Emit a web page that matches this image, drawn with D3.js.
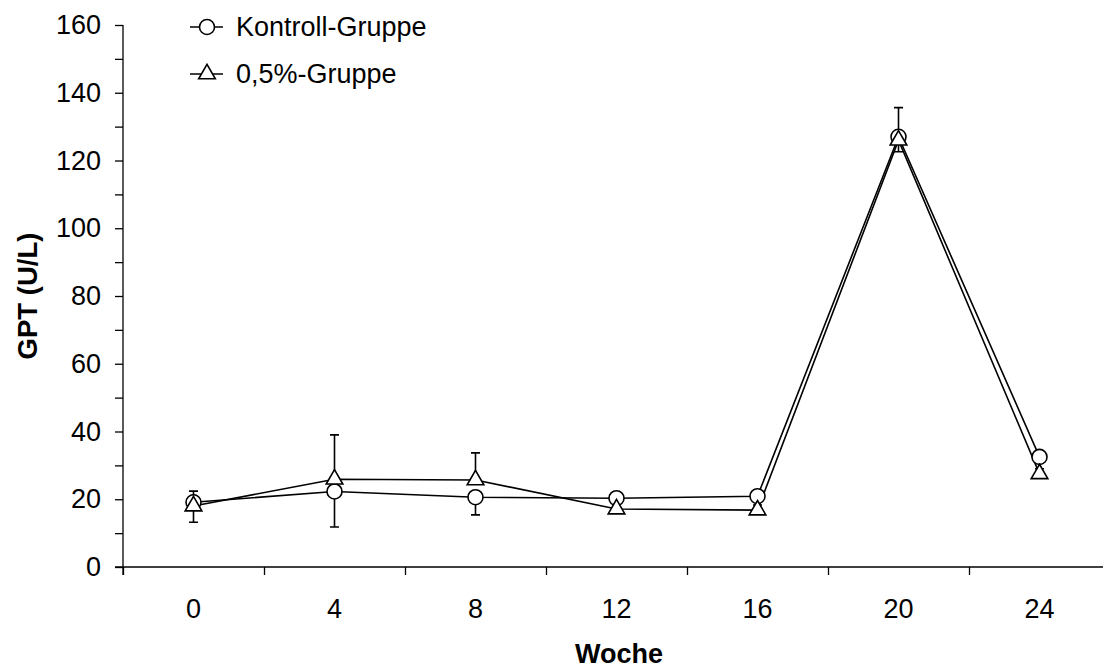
<!DOCTYPE html>
<html>
<head>
<meta charset="utf-8">
<script src="https://cdn.jsdelivr.net/npm/d3@7"></script>
<style>
  html, body { margin: 0; padding: 0; background: #fff; }
  svg { display: block; font-family: "Liberation Sans", Arial, sans-serif; }
</style>
</head>
<body>
<svg id="chart" width="1103" height="668"></svg>
<script>
// ---- data ----
const weeks = ["0", "4", "8", "12", "16", "20", "24"];
const kontrollValues = [19.1, 22.3, 20.6, 20.3, 20.9, 127.0, 32.5];
const kontrollErrDown = [5.9, 10.5, 5.2, 1.5, 1.5, 4.4, 1.5];
const gruppe05Values = [18.0, 25.9, 25.7, 17.1, 16.8, 126.0, 27.5];
const gruppe05ErrUp = [4.4, 13.1, 8.0, 1.5, 1.5, 9.6, 1.5];
const yTicks = [0, 10, 20, 30, 40, 50, 60, 70, 80, 90, 100, 110, 120, 130, 140, 150, 160];
const seriesNames = ["Kontroll-Gruppe", "0,5%-Gruppe"];
const xTitle = "Woche";
const yTitle = "GPT (U/L)";

(function () {
// ---- layout ----
const svg = d3.select("#chart");
const mLeft = 123, mRight = 1110, mTop = 25, mBottom = 567;
const fontSize = 27;

const x = d3.scaleBand().domain(weeks).range([mLeft, mRight]).paddingInner(0).paddingOuter(0);
const xBound = d3.scaleLinear().domain([0, weeks.length]).range([mLeft, mRight]);
const y = d3.scaleLinear().domain([0, 160]).range([mBottom, mTop]);
const cx = w => x(w) + x.bandwidth() / 2;

// y axis
const yAxis = svg.append("g").attr("transform", `translate(${mLeft},0)`)
  .call(d3.axisLeft(y).tickValues(yTicks).tickSize(8).tickPadding(14)
    .tickFormat(d => d % 20 === 0 ? d : ""));
// x axis boundary ticks
const xAxis = svg.append("g").attr("transform", `translate(0,${mBottom})`)
  .call(d3.axisBottom(xBound).tickValues(d3.range(weeks.length + 1)).tickSize(8).tickFormat(""));
// x labels
const xLab = svg.append("g").attr("transform", `translate(0,${mBottom})`)
  .call(d3.axisBottom(x).tickSize(0).tickPadding(31.5));
xLab.select(".domain").remove();

[yAxis, xAxis].forEach(g => {
  g.select(".domain").attr("stroke", "#000").attr("stroke-width", 1.3);
  g.selectAll(".tick line").attr("stroke", "#000").attr("stroke-width", 1.3);
});
xAxis.select(".domain").attr("d", `M${mLeft - 8},0H${mRight}`);
yAxis.select(".domain").attr("d", `M0,${mTop}V${mBottom + 8}`);
svg.selectAll(".tick text").attr("font-size", fontSize).attr("font-family", "Liberation Sans, Arial, sans-serif").attr("fill", "#000");

// titles
svg.append("text").attr("x", 619).attr("y", 663)
  .attr("text-anchor", "middle").attr("font-size", fontSize).attr("font-weight", "bold").text(xTitle);
svg.append("text").attr("transform", `translate(37,${(mTop + mBottom) / 2}) rotate(-90)`)
  .attr("text-anchor", "middle").attr("font-size", fontSize + 0.5).attr("font-weight", "bold").text(yTitle);

// lines
const line = d3.line().x(d => cx(d.w)).y(d => y(d.v));
const kData = weeks.map((w, i) => ({ w, v: kontrollValues[i], e: kontrollErrDown[i] }));
const gData = weeks.map((w, i) => ({ w, v: gruppe05Values[i], e: gruppe05ErrUp[i] }));

const plot = svg.append("g");
plot.append("path").datum(kData).attr("d", line).attr("fill", "none").attr("stroke", "#000").attr("stroke-width", 1.6);
plot.append("path").datum(gData).attr("d", line).attr("fill", "none").attr("stroke", "#000").attr("stroke-width", 1.6);

// error bars
const cap = 4.5;
function errBars(data, dir) {
  const g = plot.append("g").attr("stroke", "#000").attr("stroke-width", 1.6).attr("fill", "none");
  g.selectAll("path").data(data).join("path").attr("d", d => {
    const x0 = cx(d.w), y0 = y(d.v), y1 = y(d.v + dir * d.e);
    return `M${x0},${y0}V${y1}M${x0 - cap},${y1}H${x0 + cap}`;
  });
}
errBars(kData, -1);
errBars(gData, 1);

// markers
const circleSym = d3.symbol().type(d3.symbolCircle).size(Math.PI * 7.5 * 7.5);
const triSym = d3.symbol().type(d3.symbolTriangle).size(120);
plot.append("g").selectAll("path").data(kData).join("path")
  .attr("transform", d => `translate(${cx(d.w)},${y(d.v)})`).attr("d", circleSym)
  .attr("fill", "#fff").attr("stroke", "#000").attr("stroke-width", 1.6);
plot.append("g").selectAll("path").data(gData).join("path")
  .attr("transform", d => `translate(${cx(d.w)},${y(d.v)})`).attr("d", triSym)
  .attr("fill", "#fff").attr("stroke", "#000").attr("stroke-width", 1.6);

// legend
const legend = svg.append("g");
const legRows = [{ name: seriesNames[0], sym: circleSym, y: 27 }, { name: seriesNames[1], sym: triSym, y: 74 }];
legRows.forEach(r => {
  legend.append("line").attr("x1", 190).attr("x2", 223).attr("y1", r.y).attr("y2", r.y)
    .attr("stroke", "#000").attr("stroke-width", 1.6);
  legend.append("path").attr("transform", `translate(207,${r.y})`).attr("d", r.sym)
    .attr("fill", "#fff").attr("stroke", "#000").attr("stroke-width", 1.6);
  legend.append("text").attr("x", 236).attr("y", r.y).attr("dy", "0.35em")
    .attr("font-size", fontSize).text(r.name);
});
})();
</script>
</body>
</html>
